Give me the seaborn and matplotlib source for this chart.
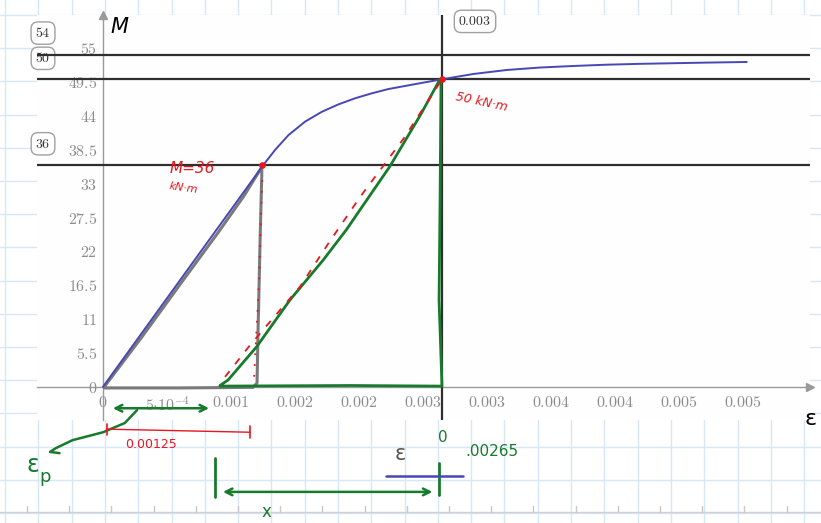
import numpy as np
import pandas as pd
import seaborn as sns
import matplotlib.pyplot as plt

# ----------------- data (strain eps, moment M in kN.m)

eps_curve = [0, 0.001252, 0.001344, 0.001448, 0.001578, 0.001709, 0.001838, 0.001969,
             0.002099, 0.002229, 0.002359, 0.00249, 0.002646, 0.002893, 0.003154,
             0.003414, 0.003674, 0.003935, 0.004195, 0.004456, 0.004716, 0.005029]
M_curve = [0, 36.05, 38.5, 40.9, 43.1, 44.7, 45.9, 46.9, 47.7, 48.4, 48.9, 49.4, 49.98,
           50.85, 51.5, 51.9, 52.15, 52.36, 52.5, 52.6, 52.7, 52.8]

h_levels = [54, 50, 36]
v_level = 0.00265
box_labels = ["54", "50", "36"]
box_M = [57.5, 53.4, 39.5]

x_ticks = [0, 0.0005, 0.001, 0.0015, 0.002, 0.0025, 0.003, 0.0035, 0.004, 0.0045, 0.005]
x_labels = ["0", r"5{\cdot}10^{-4}", "0.001", "0.002", "0.002", "0.003", "0.003",
            "0.004", "0.004", "0.005", "0.005"]
y_ticks = [0, 5.5, 11, 16.5, 22, 27.5, 33, 38.5, 44, 49.5, 55]
y_labels = ["0", "5.5", "11", "16.5", "22", "27.5", "33", "38.5", "44", "49.5", "55"]

# hand drawn strokes
gray_eps = [0.00001, 0.0003, 0.0006, 0.0009, 0.0011, 0.00124, 0.00124, 0.001227, 0.001211,
            0.001203, 0.001172, 0.0006, 0.00001]
gray_M = [0.0, 8.0, 16.6, 25.1, 31.0, 35.7, 34.4, 23.9, 9.2, 0.6, -0.1, -0.2, -0.2]

green_eps = [0.000914, 0.000977, 0.0012, 0.00146, 0.00172, 0.0019, 0.00224, 0.00248,
             0.00263, 0.00264, 0.002633, 0.002625, 0.002648, 0.00193, 0.000914]
green_M = [0.2, 1.1, 6.5, 14.1, 20.6, 25.5, 35.8, 44.2, 49.9, 49.5, 30.3, 14.1, 0.1, 0.2, 0.1]

red_dash_eps = [0.000953, 0.00115, 0.00154, 0.00177, 0.00201, 0.00235, 0.00263]
red_dash_M = [1.6, 6.8, 16.3, 23.6, 30.9, 40.4, 49.4]
red_dot_eps = [0.001242, 0.001219, 0.00118]
red_dot_M = [33.6, 17.3, 1.4]

ep_eps = [0.000055, 0.00085]
leader_eps = [0.000266, 0.00017, 0.000, -0.00024, -0.00037, -0.000414, -0.00034]
leader_M = [-3.8, -5.9, -7.4, -8.7, -10.0, -10.6, -10.8]
x_arrow_eps = [0.000875, 0.002625]

AX_GRAY = "#9a9a9a"
BLUE = "#4747b5"
GREEN = "#187a2c"
RED = "#e8161e"

sns.set_theme(style="white")
plt.rcParams["mathtext.fontset"] = "cm"
plt.rcParams["font.family"] = ["DejaVu Sans"]

fig = plt.figure(figsize=(8.21, 5.23), dpi=100)

# ----------------- graph paper background
bg = fig.add_axes([0, 0, 1, 1])
bg.set_xlim(0, 821)
bg.set_ylim(523, 0)
bg.axis("off")
for gx in np.arange(5, 821, 33.3):
    bg.axvline(gx, color="#d6e7f8", lw=1)
for gy in np.arange(15, 523, 33.2):
    bg.axhline(gy, color="#d6e7f8", lw=1)
bg.plot([0, 821], [512, 512], color="#d0d0d0", lw=1)
for tx in np.arange(27, 821, 42.2):
    bg.plot([tx, tx], [506, 512], color="#c8c8c8", lw=1)

# ----------------- main chart
ax = fig.add_axes([37 / 821, 1 - 420 / 523, 773 / 821, 405 / 523])
ax.set_facecolor("#fdfefd")

df = pd.DataFrame({"eps": eps_curve, "M": M_curve})
sns.lineplot(data=df, x="eps", y="M", ax=ax, color=BLUE, lw=1.4, zorder=5)

ax.set_xlim(-0.000516, 0.005523)
ax.set_ylim(-5.41, 60.44)
ax.set_xlabel("")
ax.set_ylabel("")

for side in ["top", "right"]:
    ax.spines[side].set_visible(False)
ax.spines["left"].set_position(("data", 0))
ax.spines["bottom"].set_position(("data", 0))
for side in ["left", "bottom"]:
    ax.spines[side].set_color(AX_GRAY)
    ax.spines[side].set_linewidth(1)
ax.plot(1, 0, ">", color=AX_GRAY, ms=6, transform=ax.get_yaxis_transform(), clip_on=False)
ax.plot(0, 1, "^", color=AX_GRAY, ms=6, transform=ax.get_xaxis_transform(), clip_on=False)

ax.set_xticks(x_ticks)
ax.set_xticklabels([f"${s}$" for s in x_labels])
ax.set_yticks(y_ticks)
ax.set_yticklabels([f"${s}$" for s in y_labels])
ax.tick_params(axis="both", direction="inout", length=6, width=1, color=AX_GRAY,
               labelcolor="#8c8c8c", labelsize=11.5)
ax.tick_params(axis="x", pad=3)
ax.tick_params(axis="y", pad=1)

for lvl in h_levels:
    ax.axhline(lvl, color="#2f2f2f", lw=1.6, zorder=3)
ax.axvline(v_level, color="#2f2f2f", lw=1.6, zorder=3)

# boxes on the left / top
for lab, mv in zip(box_labels, box_M):
    ax.text(-0.000469, mv, rf"$\mathbf{{{lab}}}$", ha="center", va="center", fontsize=10,
            color="#333333", zorder=2,
            bbox=dict(boxstyle="round,pad=0.3,rounding_size=0.5", fc="white", ec="#a0a0a0", lw=1))
ax.text(0.002906, 59.4, r"$\mathbf{0.003}$", ha="center", va="center", fontsize=10,
        color="#333333", zorder=6,
        bbox=dict(boxstyle="round,pad=0.3,rounding_size=0.5", fc="white", ec="#a0a0a0", lw=1))

# ----------------- hand annotations
ax.plot(gray_eps, gray_M, color="#7a7a7a", lw=2.2, zorder=4, solid_capstyle="round")
ax.plot(green_eps, green_M, color=GREEN, lw=2, zorder=6, solid_capstyle="round")
ax.plot(red_dash_eps, red_dash_M, color=RED, lw=1.3, ls=(0, (4, 5)), zorder=6)
ax.plot(red_dot_eps, red_dot_M, color=RED, lw=1.3, ls=(0, (1, 5)), zorder=6)
ax.scatter([0.00124, 0.00265], [36, 50], color=RED, s=14, zorder=7)

ax.text(0.000695, 35.5, "M=36", color=RED, fontsize=11, style="italic", ha="center", va="center")
ax.text(0.000625, 32.3, "kN·m", color=RED, fontsize=8, style="italic", ha="center", va="center", rotation=-8)
ax.text(0.00296, 46.3, "50 kN·m", color=RED, fontsize=9, style="italic", ha="center", va="center", rotation=-12)

# eps_p bracket
ax.annotate("", xy=(ep_eps[0], -3.5), xytext=(ep_eps[1], -3.5), annotation_clip=False,
            arrowprops=dict(arrowstyle="<->", color=GREEN, lw=1.8))
ax.plot(leader_eps, leader_M, color=GREEN, lw=1.8, clip_on=False)
ax.text(-0.000545, -12.8, "ε", color=GREEN, fontsize=17, ha="center", va="center")
ax.text(-0.000455, -14.6, "p", color=GREEN, fontsize=13, ha="center", va="center")

# red 0.00125 bracket
ax.plot([0.00003, 0.00115], [-6.9, -7.4], color=RED, lw=1, clip_on=False)
ax.plot([0.00003, 0.00003], [-6.0, -7.9], color=RED, lw=1.2, clip_on=False)
ax.plot([0.00115, 0.00115], [-6.4, -8.3], color=RED, lw=1.2, clip_on=False)
ax.text(0.000375, -9.4, "0.00125", color=RED, fontsize=9, ha="center", va="center")

# x bracket
ax.annotate("", xy=(x_arrow_eps[0] + 0.00004, -17.1), xytext=(x_arrow_eps[1] - 0.00003, -17.1),
            annotation_clip=False, arrowprops=dict(arrowstyle="<->", color=GREEN, lw=1.8))
ax.plot([x_arrow_eps[0], x_arrow_eps[0]], [-11.6, -17.9], color=GREEN, lw=2, clip_on=False)
ax.plot([x_arrow_eps[1], x_arrow_eps[1]], [-12.4, -17.6], color=GREEN, lw=2, clip_on=False)
ax.text(0.00128, -20.4, "x", color=GREEN, fontsize=12, ha="center", va="center")

ax.text(0.00232, -10.9, "ε", color="#555555", fontsize=15, ha="center", va="center")
ax.plot([0.00221, 0.00281], [-14.5, -14.5], color=BLUE, lw=1.8, clip_on=False)
ax.text(0.002656, -8.3, "0", color=GREEN, fontsize=11, ha="center", va="center")
ax.text(0.00304, -10.6, ".00265", color=GREEN, fontsize=11, ha="center", va="center")

ax.text(0.000125, 58.5, "M", color="black", fontsize=15, style="italic", ha="center", va="center")
ax.text(0.00548, -5.3, "ε", color="black", fontsize=16, ha="left", va="center")

fig.savefig("out.png", dpi=100)
